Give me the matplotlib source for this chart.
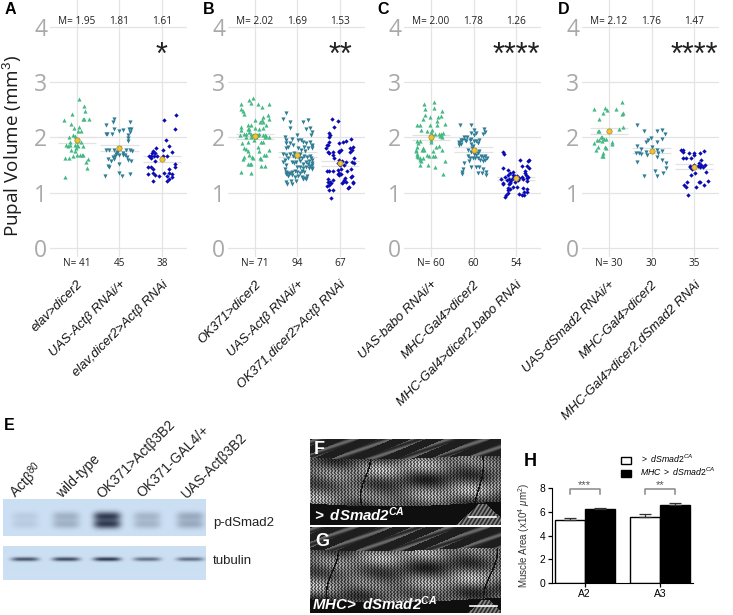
import numpy as np
import matplotlib
matplotlib.use("Agg")
import matplotlib.pyplot as plt

W, H = 733, 615
plt.rcParams['font.family'] = ['Open Sans', 'DejaVu Sans']
plt.rcParams['mathtext.fontset'] = 'custom'
plt.rcParams['mathtext.rm'] = 'Liberation Sans'
plt.rcParams['mathtext.it'] = 'Liberation Sans:italic'
plt.rcParams['mathtext.bf'] = 'Liberation Sans:bold'
plt.rcParams['mathtext.bfit'] = 'Liberation Sans:italic:bold'

# Panel A-D data: (jitter, pupal volume)
a1 = [(.05,2.69),(.16,2.57),(.19,2.48),(-.11,2.43),(-.31,2.31),(.13,2.34),(.16,2.34),(.28,2.34),(-.15,2.25),(.05,2.19),(-.06,2.17),(.02,2.11),(.09,2.11),(-.18,2.01),(-.09,2.04),(-.04,2.03),(0,1.95),(.01,1.93),(-.26,1.86),(-.16,1.91),(-.16,1.86),(-.04,1.87),(-.01,1.86),(.03,1.84),(.09,1.92),(-.02,1.81),(-.14,1.77),(-.28,1.63),(-.2,1.62),(-.09,1.66),(.01,1.69),(.07,1.69),(.12,1.69),(.15,1.68),(.25,1.61),(.2,1.55),(.23,1.44),(-.28,1.28),(-.05,1.75),(-.21,1.84),(.13,1.85)]
a2 = [(-.14,2.33),(-.16,2.28),(-.31,2.23),(.24,2.27),(-.14,2.15),(0,2.11),(.09,2.13),(.22,2.15),(.27,2.16),(.24,2.10),(-.32,2.07),(-.3,2.06),(-.18,2.07),(.19,2.04),(.19,1.99),(.2,1.94),(0,1.8),(-.32,1.77),(-.24,1.77),(-.13,1.78),(-.05,1.74),(-.08,1.70),(.16,1.78),(.24,1.77),(.29,1.75),(.09,1.71),(.13,1.68),(.17,1.64),(.21,1.60),(.27,1.58),(-.1,1.67),(-.16,1.64),(-.28,1.61),(-.2,1.58),(-.14,1.61),(-.02,1.52),(-.26,1.49),(-.24,1.46),(-.35,1.31),(-.02,1.35),(.07,1.31),(.25,1.33),(.09,1.69),(-.06,1.71),(0,1.69)]
a3 = [(.34,2.40),(.05,2.31),(.31,2.16),(.09,1.95),(.16,1.84),(-.15,1.81),(.03,1.77),(.23,1.73),(-.2,1.76),(-.24,1.72),(-.16,1.71),(-.3,1.67),(-.27,1.67),(-.19,1.67),(-.11,1.66),(.02,1.67),(-.25,1.62),(-.16,1.57),(.11,1.67),(.30,1.52),(.30,1.46),(-.32,1.46),(-.27,1.46),(-.2,1.42),(.17,1.43),(-.34,1.34),(-.22,1.36),(-.16,1.32),(-.06,1.30),(.05,1.36),(.17,1.35),(.11,1.30),(.24,1.28),(.17,1.25),(.11,1.21),(-.2,1.21),(.23,1.34),(0,1.61)]
b1 = [(-.05,2.72),(-.13,2.68),(-.09,2.63),(-.34,2.6),(.06,2.6),(.34,2.61),(.16,2.55),(-.32,2.52),(-.29,2.47),(-.26,2.43),(.31,2.4),(.01,2.32),(.18,2.36),(.32,2.33),(.16,2.31),(.12,2.27),(.2,2.27),(-.17,2.23),(-.09,2.23),(-.32,2.19),(-.33,2.14),(-.17,2.16),(.1,2.16),(.2,2.17),(.26,2.23),(-.35,2.05),(-.2,2.07),(-.15,2.09),(-.09,2.06),(.1,2.07),(.08,2.04),(.24,2.05),(.27,2.03),(.32,2.01),(.02,2.01),(-.09,2.01),(-.03,1.95),(-.16,1.91),(-.31,1.89),(-.25,1.8),(-.2,1.79),(-.16,1.75),(.06,1.82),(.14,1.91),(.1,1.76),(.32,1.77),(.27,1.69),(.22,1.68),(-.27,1.65),(-.29,1.61),(-.13,1.68),(-.07,1.65),(-.05,1.63),(.12,1.63),(.15,1.61),(-.12,1.52),(-.16,1.51),(-.09,1.52),(.13,1.49),(.23,1.49),(-.32,1.37),(-.09,1.35),(-.04,2.04),(.04,2.04),(.18,2.04),(.24,2.01),(-.21,2.01),(-.25,2.07),(.18,1.92),(-.13,2.16),(.01,2.17)]
b2 = [(-.27,2.44),(-.34,2.33),(-.18,2.27),(.12,2.27),(.24,2.31),(-.18,2.17),(.29,2.17),(.21,2.15),(.35,2.09),(.31,2.05),(-.3,2.01),(-.02,2.04),(-.26,1.95),(-.14,1.98),(.02,1.95),(.09,1.95),(.13,1.91),(-.26,1.89),(-.18,1.89),(-.1,1.86),(-.22,1.83),(-.27,1.81),(.21,1.89),(.29,1.91),(.35,1.87),(.15,1.83),(.25,1.8),(.33,1.8),(.02,1.8),(.09,1.77),(.17,1.75),(.35,1.85),(-.33,1.7),(-.26,1.69),(-.18,1.7),(-.29,1.6),(-.33,1.55),(-.27,1.5),(-.22,1.62),(-.11,1.66),(-.05,1.64),(.03,1.62),(.1,1.63),(.16,1.66),(.22,1.64),(.3,1.66),(.35,1.6),(.35,1.54),(.35,1.5),(.35,1.45),(.35,1.42),(.3,1.48),(.25,1.52),(.19,1.56),(.13,1.52),(.07,1.58),(-.03,1.56),(-.09,1.53),(-.14,1.55),(-.02,1.47),(.06,1.46),(.14,1.44),(.2,1.46),(.26,1.44),(-.3,1.42),(-.24,1.36),(-.18,1.35),(-.12,1.38),(-.07,1.4),(0,1.38),(.06,1.35),(.1,1.4),(.16,1.38),(.22,1.31),(.18,1.27),(.1,1.28),(.02,1.3),(-.05,1.28),(-.12,1.32),(-.22,1.3),(-.26,1.33),(-.28,1.37),(.14,1.25),(-.24,1.16),(-.27,1.2),(-.16,1.22),(-.13,1.15),(-.04,1.22),(.2,1.24),(-.2,1.34),(.27,1.58),(.32,1.62),(-.08,1.72),(.05,1.7)]
b3 = [(-.19,2.34),(-.04,2.29),(-.13,2.19),(-.25,2.08),(-.27,2.0),(-.25,1.91),(-.3,1.86),(-.33,1.81),(.14,1.93),(.06,1.91),(-.02,1.89),(.26,1.97),(.30,1.83),(.24,1.8),(.02,1.77),(-.02,1.75),(-.29,1.74),(-.25,1.71),(-.17,1.68),(-.13,1.63),(.34,1.63),(.28,1.55),(.34,1.53),(-.02,1.6),(.05,1.58),(-.3,1.39),(-.25,1.39),(-.17,1.39),(-.05,1.41),(.02,1.43),(-.02,1.35),(-.03,1.32),(.26,1.43),(.28,1.31),(.16,1.39),(.1,1.23),(.06,1.2),(.14,1.2),(.3,1.17),(.22,1.11),(.18,1.08),(-.29,1.25),(-.16,1.23),(-.21,1.17),(-.31,1.12),(-.25,1.14),(-.16,1.05),(-.27,1.05),(-.21,.91),(-.05,1.33),(.02,1.34),(.1,1.5),(0,1.5),(.26,1.29),(.3,1.2),(.05,1.17),(.12,1.26),(-.24,1.2),(-.29,1.2),(-.29,1.86),(-.17,1.74),(.24,1.74),(.14,1.55),(-.02,1.74),(.28,1.77),(-.24,2.05),(-.05,1.53)]
c1 = [(-.16,2.6),(.06,2.64),(.06,2.54),(-.13,2.52),(.27,2.48),(-.15,2.41),(-.02,2.37),(.17,2.37),(.24,2.39),(-.2,2.33),(.15,2.3),(-.32,2.23),(-.27,2.22),(-.02,2.22),(.15,2.22),(.34,2.24),(-.23,2.14),(-.1,2.12),(.02,2.14),(0,2.1),(.19,2.07),(.24,2.07),(.29,2.08),(.2,2.02),(.25,2.01),(.02,2.04),(0,1.96),(-.34,1.93),(-.26,1.93),(-.3,1.89),(-.34,1.82),(-.35,1.75),(-.34,1.7),(-.3,1.65),(-.26,1.6),(-.24,1.58),(-.26,1.5),(-.2,1.8),(-.16,1.77),(.05,1.76),(.12,1.82),(.18,1.84),(.25,1.78),(-.04,1.67),(.04,1.67),(.09,1.66),(-.2,1.62),(-.08,1.5),(.1,1.46),(.33,1.58),(.28,1.34),(-.1,1.68),(0,1.92),(.09,2.07),(-.35,1.78),(-.32,1.67),(-.27,1.62),(-.22,1.78),(0,2.01),(.24,2.04)]
c2 = [(-.31,2.23),(-.05,2.22),(.24,2.15),(.28,2.1),(.23,2.06),(.02,2.13),(.05,2.08),(-.05,2.08),(.01,2.04),(-.23,2.01),(-.3,1.95),(-.33,1.92),(-.35,1.9),(-.3,1.88),(-.34,1.87),(-.26,1.95),(-.21,1.96),(-.17,1.94),(-.15,2.0),(-.09,1.95),(-.05,1.97),(0,1.93),(.05,1.93),(.13,1.95),(.1,1.9),(-.06,1.88),(-.02,1.85),(-.04,1.8),(.02,1.78),(-.12,1.77),(-.06,1.73),(0,1.7),(.05,1.68),(.1,1.72),(.14,1.76),(.17,1.66),(.22,1.65),(.27,1.66),(.32,1.63),(.28,1.6),(.22,1.58),(.16,1.6),(.1,1.62),(.04,1.62),(-.02,1.63),(-.09,1.63),(-.14,1.67),(-.11,1.57),(-.23,1.53),(-.25,1.43),(-.07,1.46),(.05,1.46),(.13,1.47),(.1,1.36),(.2,1.36),(.23,1.43),(.3,1.37),(.29,1.32),(-.27,1.38),(-.26,1.33)]
c3 = [(-.31,1.74),(-.28,1.7),(.30,1.6),(.29,1.58),(.09,1.59),(.14,1.48),(.25,1.48),(.31,1.44),(-.31,1.45),(-.2,1.41),(-.06,1.38),(.2,1.39),(-.13,1.35),(-.2,1.32),(-.26,1.29),(-.35,1.24),(-.16,1.25),(-.08,1.27),(-.02,1.3),(.02,1.24),(.08,1.27),(.13,1.29),(.24,1.32),(.25,1.26),(.29,1.29),(.25,1.22),(-.12,1.23),(-.14,1.2),(-.17,1.15),(-.22,1.23),(-.3,1.17),(-.31,1.15),(-.18,1.08),(-.14,1.06),(-.06,1.11),(.02,1.11),(.16,1.08),(.19,1.02),(.25,1.06),(.27,1.02),(.08,.98),(.13,.96),(.19,.96),(-.18,1.04),(-.2,1.0),(-.24,.95),(-.27,.93),(-.13,1.18),(-.02,1.19),(.05,1.23),(.17,1.24),(.21,1.35),(-.06,1.32),(.03,1.3)]
d1 = [(.31,2.64),(-.35,2.52),(-.09,2.53),(-.05,2.49),(.17,2.52),(-.14,2.45),(.33,2.45),(.3,2.42),(-.24,2.33),(.33,2.18),(.23,2.16),(-.25,2.12),(-.24,2.11),(-.19,2.01),(-.16,2.01),(-.11,1.98),(-.06,1.98),(-.28,1.95),(-.23,1.96),(-.16,1.93),(-.35,1.9),(.08,1.91),(.08,1.88),(-.27,1.82),(-.31,1.78),(-.09,1.82),(-.06,1.81),(-.14,1.71),(-.17,1.67),(-.13,1.67)]
d2 = [(-.33,2.23),(-.17,2.11),(.13,2.11),(.25,2.14),(.31,2.07),(-.02,1.99),(-.09,1.96),(-.12,1.92),(.13,1.92),(.24,1.98),(-.33,1.85),(-.25,1.79),(-.37,1.72),(-.3,1.71),(-.24,1.7),(-.14,1.74),(-.1,1.69),(.25,1.76),(.02,1.82),(.16,1.71),(.13,1.65),(.24,1.59),(.35,1.53),(.35,1.45),(-.33,1.56),(.09,1.39),(.28,1.35),(.14,1.31),(-.18,1.3),(.12,1.77)]
d3 = [(-.31,1.78),(-.26,1.77),(-.25,1.73),(-.12,1.71),(0,1.72),(.01,1.69),(.14,1.71),(.24,1.76),(-.27,1.63),(-.18,1.62),(-.07,1.63),(.17,1.6),(.11,1.53),(-.01,1.5),(-.1,1.46),(.17,1.5),(.25,1.5),(.2,1.46),(.15,1.46),(-.05,1.43),(.28,1.38),(.03,1.36),(-.06,1.32),(-.16,1.2),(.11,1.2),(.14,1.2),(.33,1.22),(-.24,1.14),(-.19,1.11),(.05,1.11),(.24,1.14),(-.13,.96),(-.03,1.48),(.09,1.48),(-.09,1.48)]

means_a = [1.95, 1.81, 1.61]
means_b = [2.02, 1.69, 1.53]
means_c = [2.00, 1.78, 1.26]
means_d = [2.12, 1.76, 1.47]
sem_a = [0.05, 0.05, 0.05]
sem_b = [0.04, 0.04, 0.05]
sem_c = [0.04, 0.05, 0.03]
sem_d = [0.05, 0.04, 0.04]
n_a = [41, 45, 38]
n_b = [71, 94, 67]
n_c = [60, 60, 54]
n_d = [30, 30, 35]
labels_a = ["elav>dicer2", "UAS-Actβ RNAi/+", "elav,dicer2>Actβ RNAi"]
labels_b = ["OK371>dicer2", "UAS-Actβ RNAi/+", "OK371,dicer2>Actβ RNAi"]
labels_c = ["UAS-babo RNAi/+", "MHC-Gal4>dicer2", "MHC-Gal4>dicer2,babo RNAi"]
labels_d = ["UAS-dSmad2 RNAi/+", "MHC-Gal4>dicer2", "MHC-Gal4>dicer2,dSmad2 RNAi"]

# Panel H
regions = ["A2", "A3"]
area_ctrl = [5.3, 5.6]
area_mhc = [6.2, 6.55]
err_ctrl = [0.17, 0.22]
err_mhc = [0.15, 0.2]

# Panel E
lanes = ["Actβ$^{80}$", "wild-type", "OK371>Actβ3B2", "OK371-GAL4/+", "UAS-Actβ3B2"]
lane_ends = [(41, 467), (98, 457), (173, 422), (207, 428), (245, 435)]
psmad = [0.10, 0.24, 0.85, 0.22, 0.28]
tubulin = [0.75, 0.8, 0.9, 0.6, 0.6]

colors = ["#45b985", "#2f7d96", "#0b0bb5"]
markers = ["^", "v", "D"]
sizes = [9, 9, 5]

fig = plt.figure(figsize=(W / 100, H / 100), dpi=100)


def px_axes(l, t, r, b, **kw):
    return fig.add_axes([l / W, 1 - b / H, (r - l) / W, (b - t) / H], **kw)


# full figure overlay in pixels, for the photos and loose text
over = px_axes(0, 0, W, H)
over.set_xlim(0, W)
over.set_ylim(H, 0)
over.axis("off")


def scatter_panel(left, groups, means, sem, ns, labels, stars, first=False):
    # y axis: 55.3 px per mm3, zero at pixel row 248
    ax = px_axes(left, 0, left + 137, 257)
    ax.patch.set_alpha(0)
    ax.set_ylim(-9 / 55.3, 248 / 55.3)
    ax.set_xlim(1 - 27 / 42.5, 3 + 25 / 42.5)
    ax.set_xticks([1, 2, 3])
    ax.set_yticks([0, 1, 2, 3, 4])
    ax.grid(True, color="#e4e4e4", lw=0.9)
    ax.set_axisbelow(True)
    ax.tick_params(length=0, labelbottom=False, labelsize=16.5, labelcolor="#a9a9a9", pad=2)
    for s in ax.spines.values():
        s.set_visible(False)
    for i, pts in enumerate(groups):
        pos = i + 1
        dx = [p[0] for p in pts]
        y = [p[1] for p in pts]
        ax.hlines([means[i] - sem[i], means[i] + sem[i]], pos - 0.45, pos + 0.45, color="#e2e2e2", lw=0.9, zorder=1)
        ax.scatter([pos + d for d in dx], y, marker=markers[i], s=sizes[i], color=colors[i], lw=0, zorder=2)
        ax.scatter([pos], [means[i]], marker="o", s=15, color="#f2c12e", edgecolor="#8a7a30", lw=0.4, zorder=3)
        mtxt = f"{means[i]:.2f}"
        ntxt = str(ns[i])
        if i == 0:
            mtxt = "M= " + mtxt
            ntxt = "N= " + ntxt
        ax.text(pos, 4.09, mtxt, ha="center", va="center", fontsize=7.2, color="#222222", clip_on=False)
        ax.text(pos, -0.28, ntxt, ha="center", va="center", fontsize=7.2, color="#222222", clip_on=False)
        ax.text(pos + 0.1, -0.63, labels[i], rotation=45, rotation_mode="anchor", ha="right", va="center",
                fontsize=9.4, style="italic", family="Liberation Sans", color="#111111", clip_on=False)
    ax.text(3, 3.47, stars, ha="center", va="center", fontsize=22, family="Liberation Sans", color="#222222")
    if first:
        over.text(13, 146, "Pupal Volume (mm$^{3}$)", rotation=90, ha="center", va="center", fontsize=13.6, color="#1a1a1a")


scatter_panel(50, [a1, a2, a3], means_a, sem_a, n_a, labels_a, "*", first=True)
scatter_panel(228, [b1, b2, b3], means_b, sem_b, n_b, labels_b, "**")
scatter_panel(404, [c1, c2, c3], means_c, sem_c, n_c, labels_c, "****")
scatter_panel(582, [d1, d2, d3], means_d, sem_d, n_d, labels_d, "****")

# panel letters
for letter, x, y, size, col in [("A", 5, 10, 11.5, "k"), ("B", 203, 10, 11.5, "k"), ("C", 377, 10, 11.5, "k"),
                                ("D", 558, 10, 11.5, "k"), ("E", 4, 425, 11.5, "k"), ("H", 524, 462, 13, "k"),
                                ("F", 314, 449, 13, "w"), ("G", 315, 541, 13, "w")]:
    over.text(x, y, letter, fontsize=size, fontweight="bold", color=col, family="Liberation Sans", ha="left", va="center", zorder=6)


# Western blot strips
def blot_strip(top, bottom, strengths, centre, sigma_y, double):
    h, w = bottom - top, 203
    yy, xx = np.mgrid[0:h * 3, 0:w * 3] / 3.0
    lane_x = [22, 63, 104, 144, 187]
    s = np.zeros_like(xx)
    for lx, st in zip(lane_x, strengths):
        prof = np.exp(-((xx - lx) / 13.5) ** 4)
        if double:
            band = np.exp(-((yy - centre + 5) / sigma_y) ** 2) + np.exp(-((yy - centre - 3) / sigma_y) ** 2)
        else:
            band = np.exp(-((yy - centre) / sigma_y) ** 2)
        s += st * prof * band
    s = np.clip(s, 0, 1)[..., None]
    bg = np.array([0.80, 0.875, 0.955])
    ink = np.array([0.12, 0.15, 0.24])
    return bg * (1 - s) + ink * s


over.imshow(blot_strip(499, 536, psmad, 22, 4.5, True), extent=(3, 206, 536, 499), aspect="auto", zorder=1)
over.imshow(blot_strip(546, 580, tubulin, 13, 2.0, False), extent=(3, 206, 580, 546), aspect="auto", zorder=1)
over.text(213, 523, "p-dSmad2", fontsize=9.5, family="Liberation Sans", va="center", color="#222222")
over.text(213, 561, "tubulin", fontsize=9.5, family="Liberation Sans", va="center", color="#222222")
for lane, (ex, ey) in zip(lanes, lane_ends):
    over.text(ex, ey, lane, rotation=45, rotation_mode="anchor", ha="right", va="center", fontsize=10,
              family="Liberation Sans", color="#222222")


# muscle micrographs are a drawn texture, not data
def muscle_photo(h, w, top_edge, low_edge, seams, wedge_x):
    yy, xx = np.mgrid[0:h, 0:w].astype(float)
    zig = np.sin(2 * np.pi * (xx + 1.6 * np.abs(np.sin(yy * 0.9))) / 3.3)
    patches = np.sin(yy / 4.3 + xx / 70) + 0.7 * np.sin(xx / 23 + yy / 7) + 0.5 * np.sin(xx / 9 - yy / 5)
    muscle = 0.36 + 0.11 * patches + (0.2 + 0.06 * patches) * zig
    diag = 0.12 + 0.3 * (np.sin((xx * 0.42 + yy) / 2.2) > 0.2) * (0.55 + 0.45 * np.sin(xx / 3.0 + yy))
    img = np.where(yy < top_edge + 2 * np.sin(xx / 40), diag, 0.06)
    inside = (yy >= top_edge + 2 * np.sin(xx / 40)) & (yy < low_edge + 3 * np.sin(xx / 50))
    img = np.where(inside, muscle, img)
    wedge = (~inside) & (yy > low_edge) & (np.abs(xx - wedge_x) < (yy - low_edge) * 1.1 + 3)
    img = np.where(wedge, 0.35 + 0.2 * np.sin(xx * 1.6 + yy), img)
    for x0, amp, per in seams:
        c = x0 + amp * np.sin(yy / per)
        img = np.where(inside & (np.abs(xx - c) < 0.8), 0.08, img)
    return np.clip(img, 0, 1)


over.imshow(muscle_photo(86, 191, 18, 64, [(55, 5, 12), (168, 5, 16)], 172), extent=(310, 501, 525, 439),
            aspect="auto", cmap="gray", vmin=0, vmax=1, interpolation="bilinear", zorder=1)
over.imshow(muscle_photo(86, 191, 22, 72, [(22, 6, 14), (180, 7, 15)], 175), extent=(310, 501, 613, 527),
            aspect="auto", cmap="gray", vmin=0, vmax=1, interpolation="bilinear", zorder=1)
over.set_xlim(0, W)
over.set_ylim(H, 0)
over.text(312, 516, r"$\mathbfit{>\ dSmad2^{CA}}$", color="w", fontsize=10.8, va="center", zorder=6)
over.text(312, 605, r"$\mathbfit{MHC\!>\ dSmad2^{CA}}$", color="w", fontsize=10.8, va="center", zorder=6)
over.plot([469, 496], [517, 517], color="w", lw=1.2, zorder=6)
over.plot([470, 497], [606, 606], color="w", lw=1.2, zorder=6)

# Panel H bars
axh = px_axes(552, 488, 693, 583)
pos = np.arange(len(regions))
bw = 30 / 75.5
bars1 = axh.bar(pos - bw / 2, area_ctrl, bw, color="w", edgecolor="k", lw=1, label=r"$\mathit{>\ dSmad2^{CA}}$",
                yerr=[[0, 0], err_ctrl], error_kw=dict(ecolor="#333333", lw=0.9, capsize=4, capthick=0.9))
bars2 = axh.bar(pos + bw / 2, area_mhc, bw, color="k", edgecolor="k", lw=1, label=r"$\mathit{MHC\ >\ dSmad2^{CA}}$",
                yerr=[[0, 0], err_mhc], error_kw=dict(ecolor="#333333", lw=0.9, capsize=4, capthick=0.9))
axh.set_xlim(-32.5 / 75.5, 108.5 / 75.5)
axh.set_ylim(0, 8)
axh.set_xticks(pos)
axh.set_xticklabels(regions)
axh.set_yticks([0, 2, 4, 6, 8])
axh.tick_params(labelsize=7.4, length=3, width=0.9, pad=1.5)
for lab in axh.get_xticklabels() + axh.get_yticklabels():
    lab.set_family("Liberation Sans")
axh.set_ylabel(r"Muscle Area (x10$^{4}$ $\mu$m$^{2}$)", fontsize=7, family="Liberation Sans", color="#333333")
axh.yaxis.set_label_coords(-20 / 141, 0.5)
axh.spines["top"].set_visible(False)
axh.spines["right"].set_visible(False)
for i, st in enumerate(["***", "**"]):
    axh.plot([pos[i] - bw / 2, pos[i] - bw / 2, pos[i] + bw / 2, pos[i] + bw / 2], [7.5, 7.9, 7.9, 7.5],
             color="#888888", lw=1.1, clip_on=False)
    axh.text(pos[i], 8.25, st, ha="center", va="center", fontsize=8, family="Liberation Sans", color="#555555", clip_on=False)
axh.legend(loc="lower left", bbox_to_anchor=(69 / 141, 1.10), frameon=False, fontsize=6.3, handlelength=1.15,
           handleheight=0.8, labelspacing=0.1, handletextpad=1.0, borderaxespad=0, borderpad=0)

fig.savefig("out.png", dpi=100)
